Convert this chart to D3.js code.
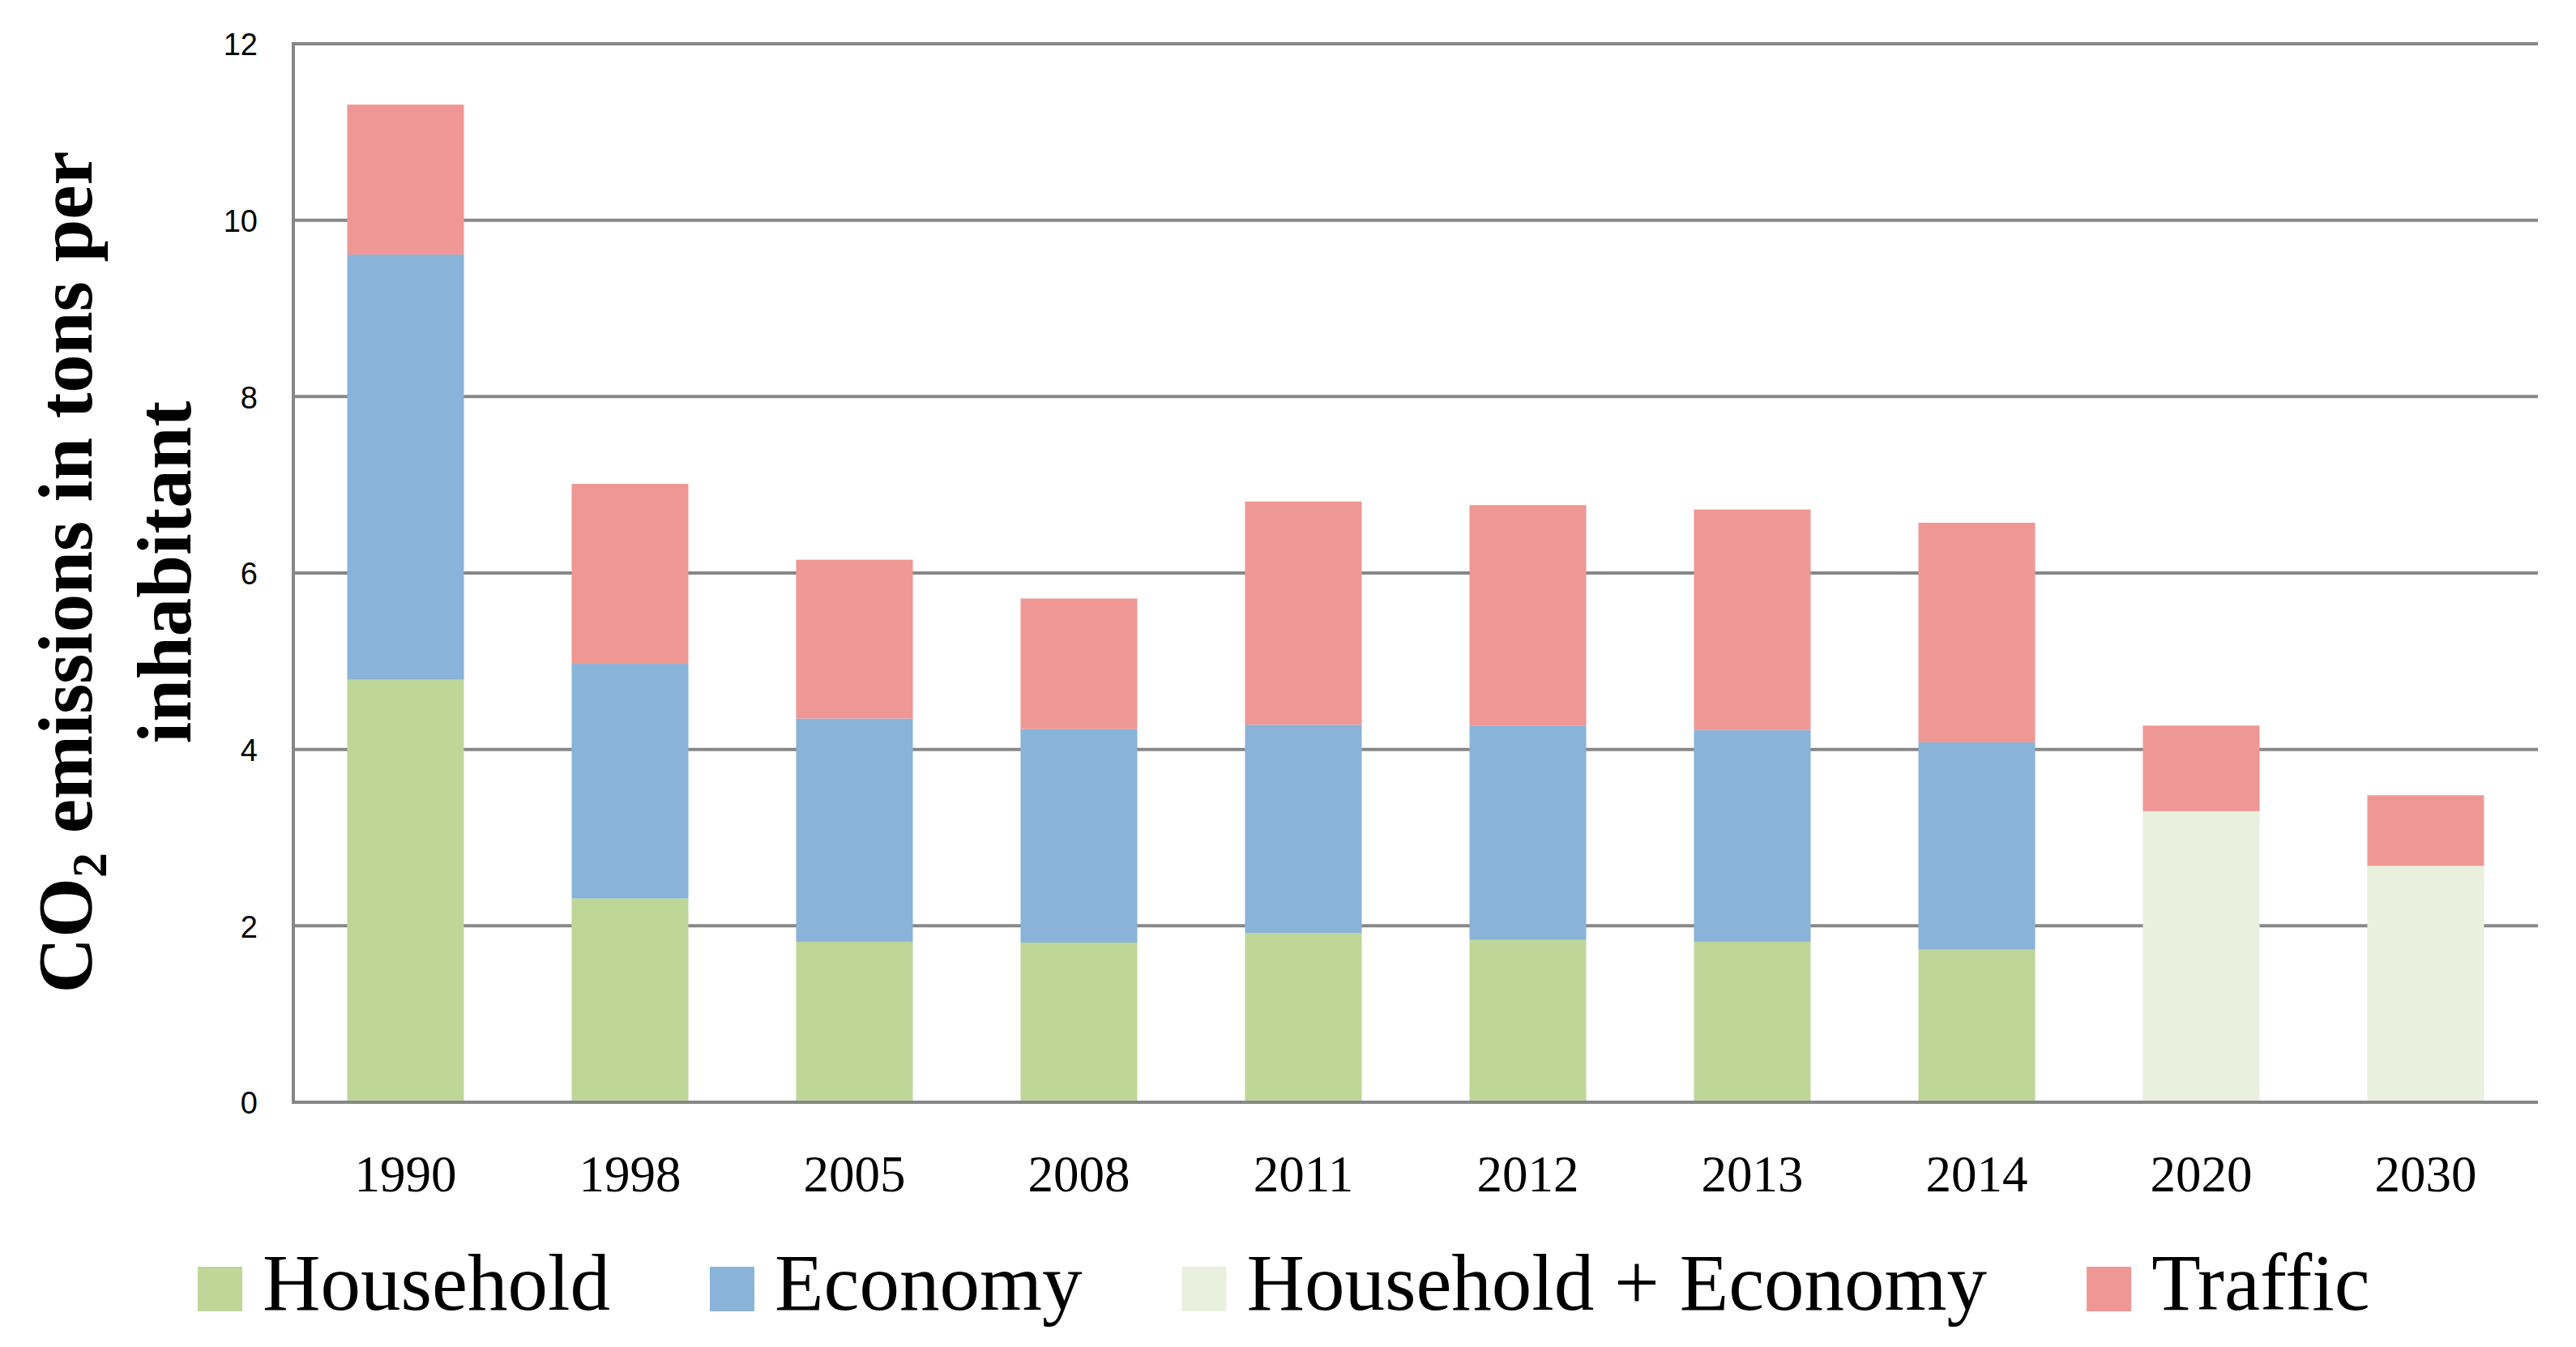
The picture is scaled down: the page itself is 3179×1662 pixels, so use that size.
<!DOCTYPE html>
<html>
<head>
<meta charset="utf-8">
<script src="https://cdn.jsdelivr.net/npm/d3@7"></script>
<style>
  html, body { margin: 0; padding: 0; background: #fff; }
  svg { display: block; }
</style>
</head>
<body>
<svg id="chart" width="3179" height="1662"></svg>
<script>
const years = ["1990","1998","2005","2008","2011","2012","2013","2014","2020","2030"];
const household = [4.79, 2.31, 1.82, 1.81, 1.92, 1.84, 1.82, 1.73, 0, 0];
const economy   = [4.82, 2.66, 2.53, 2.42, 2.36, 2.43, 2.40, 2.35, 0, 0];
const householdEconomy = [0, 0, 0, 0, 0, 0, 0, 0, 3.30, 2.68];
const traffic   = [1.70, 2.04, 1.80, 1.48, 2.53, 2.50, 2.50, 2.49, 0.97, 0.80];
const yTicks = [0, 2, 4, 6, 8, 10, 12];
const seriesNames = ["Household", "Economy", "Household + Economy", "Traffic"];
const seriesColors = ["#BED799", "#89B3D8", "#E9F0DE", "#EF9794"];

(function () {
const keys = ["household", "economy", "he", "traffic"];
const table = years.map((y, i) => ({
  year: y, household: household[i], economy: economy[i], he: householdEconomy[i], traffic: traffic[i]
}));

const svg = d3.select("#chart");
const mLeft = 362, mRight = 3132, mTop = 54, mBottom = 1360;

const x = d3.scaleBand().domain(years).range([mLeft, mRight]).paddingInner(0.48).paddingOuter(0.24);
const y = d3.scaleLinear().domain([0, 12]).range([mBottom, mTop]);

// gridlines
svg.append("g").selectAll("line").data(yTicks).join("line")
  .attr("x1", mLeft).attr("x2", mRight)
  .attr("y1", d => y(d)).attr("y2", d => y(d))
  .attr("stroke", "#878787").attr("stroke-width", 4);

// bars
const stacked = d3.stack().keys(keys)(table);
svg.append("g").selectAll("g").data(stacked).join("g")
  .attr("fill", (d, i) => seriesColors[i])
  .selectAll("rect").data(d => d).join("rect")
  .attr("x", d => x(d.data.year))
  .attr("width", x.bandwidth())
  .attr("y", d => y(d[1]))
  .attr("height", d => Math.max(0, y(d[0]) - y(d[1])));

// left axis line
svg.append("line").attr("x1", mLeft).attr("x2", mLeft).attr("y1", mTop - 2).attr("y2", mBottom + 2)
  .attr("stroke", "#878787").attr("stroke-width", 4);
// baseline
svg.append("line").attr("x1", mLeft - 2).attr("x2", mRight).attr("y1", y(0)).attr("y2", y(0))
  .attr("stroke", "#878787").attr("stroke-width", 4);

// y axis tick labels
const yAxis = d3.axisLeft(y).tickValues(yTicks).tickSize(0).tickPadding(0).tickFormat(d3.format("d"));
const gy = svg.append("g").attr("transform", `translate(${mLeft - 44},0)`).call(yAxis);
gy.select(".domain").remove();
gy.selectAll("text").attr("font-family", "'Liberation Sans', Arial, sans-serif")
  .attr("font-size", 38).attr("fill", "#000").attr("dy", "0.36em");

// x axis labels
const xAxis = d3.axisBottom(x).tickSize(0).tickPadding(0);
const gx = svg.append("g").attr("transform", `translate(0,${mBottom})`).call(xAxis);
gx.select(".domain").remove();
gx.selectAll("text").attr("font-family", "'Liberation Serif', 'Times New Roman', serif")
  .attr("font-size", 63).attr("fill", "#000").attr("dy", null).attr("y", 110);

// y title
const titleG = svg.append("g").attr("font-family", "'Liberation Serif', 'Times New Roman', serif")
  .attr("font-weight", "bold").attr("font-size", 95).attr("fill", "#000");
const t1 = titleG.append("text").attr("text-anchor", "middle")
  .attr("transform", `translate(113,706) rotate(-90)`);
t1.append("tspan").text("CO");
t1.append("tspan").text("2").attr("font-size", 62).attr("dy", 18);
t1.append("tspan").text(" emissions in tons per").attr("dy", -18);
titleG.append("text").attr("text-anchor", "middle")
  .attr("transform", `translate(235,706) rotate(-90)`).text("inhabitant");

// legend
const legend = svg.append("g").attr("font-family", "'Liberation Serif', 'Times New Roman', serif")
  .attr("font-size", 99).attr("fill", "#000");
let lx = 244;
const ly = 1616;
seriesNames.forEach((name, i) => {
  legend.append("rect").attr("x", lx).attr("y", ly - 53).attr("width", 55).attr("height", 55)
    .attr("fill", seriesColors[i]);
  const t = legend.append("text").attr("x", lx + 80).attr("y", ly).text(name);
  const w = t.node().getComputedTextLength();
  lx = lx + 80 + w + 123;
});
})();
</script>
</body>
</html>
